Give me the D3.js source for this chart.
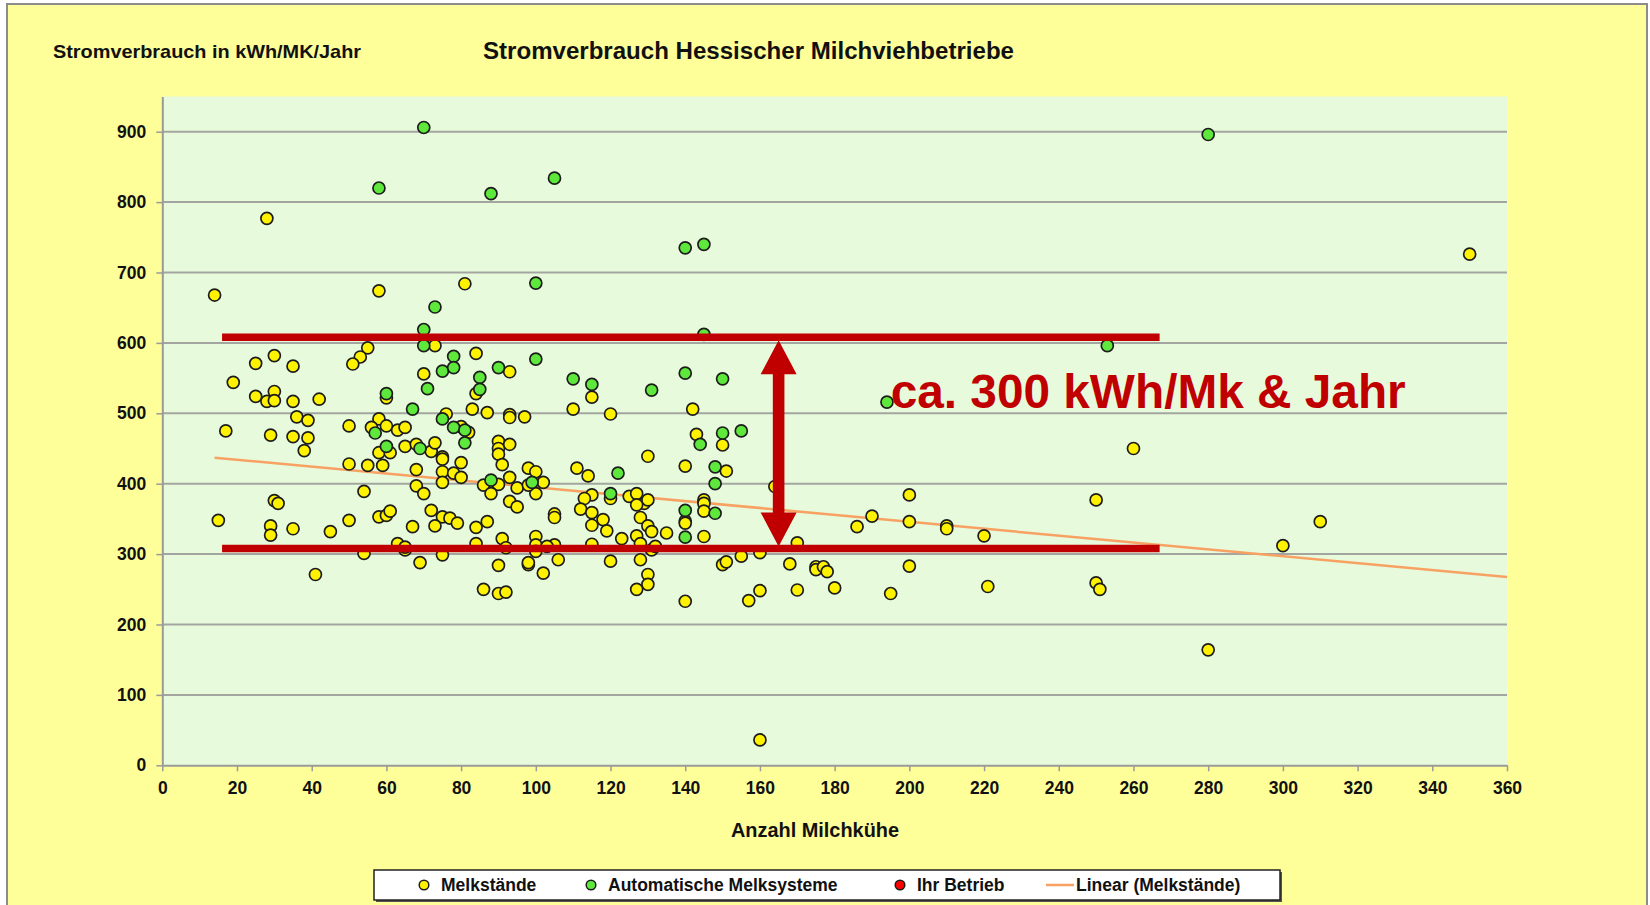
<!DOCTYPE html>
<html>
<head>
<meta charset="utf-8">
<script src="https://cdn.jsdelivr.net/npm/d3@7"></script>
<style>
    body { margin: 0; background: #ffffff; }
    svg text { font-family: "Liberation Sans", Arial, sans-serif; font-weight: bold; }
</style>
</head>
<body>
<div id="chart"></div>
<script>
// Melkstände (yellow) : [Anzahl Milchkühe, kWh/MK/Jahr]
const melkstaende = [
    [14, 668], [28, 777], [58, 674], [81, 684], [15, 348],
    [73, 596], [55, 593], [53, 580], [51, 570], [30, 582], [25, 571], [35, 567], [19, 544],
    [25, 524], [30, 531], [28, 517], [30, 518], [35, 517], [42, 520], [60, 522], [70, 556],
    [76, 499], [83, 506], [17, 475], [29, 469], [35, 467], [36, 495], [39, 490], [39, 465],
    [38, 447], [50, 482], [58, 492], [56, 480], [60, 482], [63, 476], [65, 480], [58, 444],
    [61, 444], [65, 453], [68, 456], [72, 446], [73, 458], [82, 473], [80, 481], [75, 438],
    [75, 435], [80, 430], [75, 417], [78, 415], [80, 409], [50, 428], [55, 426], [59, 426],
    [68, 420], [68, 397], [75, 402], [84, 585],
    [54, 389], [30, 376], [31, 372], [70, 386], [29, 340], [29, 327], [35, 336], [45, 332],
    [50, 348], [58, 353], [60, 355], [61, 361], [72, 362], [75, 353], [77, 351], [79, 344],
    [73, 340], [67, 339], [84, 338], [84, 315], [63, 315], [65, 306], [65, 310], [54, 301],
    [75, 299], [69, 288], [41, 271], [86, 250],
    [93, 559], [84, 528], [115, 523], [142, 506], [87, 501], [93, 498], [93, 494], [97, 495],
    [110, 506], [120, 499], [90, 460], [90, 450], [90, 442], [93, 456], [91, 427], [98, 422],
    [100, 417], [93, 409], [102, 402], [111, 422], [114, 411], [130, 439], [140, 425],
    [143, 470], [150, 455], [151, 418],
    [86, 398], [90, 399], [88, 386], [100, 386], [95, 394], [98, 398], [93, 375], [95, 367],
    [105, 357], [105, 352], [115, 384], [113, 379], [112, 364], [115, 359], [115, 341],
    [118, 349], [119, 333], [120, 379], [125, 382], [127, 386], [129, 372], [130, 377],
    [127, 370], [128, 352], [130, 340], [131, 332], [135, 330], [123, 322], [127, 326],
    [128, 315], [131, 306], [132, 311], [140, 347], [140, 344], [145, 377], [145, 372],
    [145, 361], [145, 325], [155, 297], [150, 285], [151, 289], [87, 346], [91, 322],
    [92, 309], [100, 325], [100, 313], [100, 304], [105, 313], [103, 311], [115, 314],
    [90, 284], [98, 285], [98, 288], [102, 273], [106, 292], [120, 290], [128, 292],
    [130, 271], [130, 257], [127, 250], [90, 244], [92, 246], [140, 233], [157, 234],
    [164, 396], [200, 384], [250, 377], [260, 450], [160, 302], [160, 248], [160, 36],
    [170, 316], [168, 286], [170, 249], [175, 282], [175, 278], [177, 282], [178, 275],
    [180, 252], [186, 339], [190, 354], [195, 244], [200, 346], [200, 283], [210, 340],
    [210, 336], [220, 326], [221, 254], [250, 259], [251, 250],
    [350, 726], [310, 346], [300, 312], [280, 164]
];

// Automatische Melksysteme (green)
const ams = [
    [70, 906], [58, 820], [88, 812], [105, 834], [100, 685], [73, 651], [70, 619], [70, 596],
    [60, 528], [71, 535], [75, 560], [78, 581], [78, 565], [85, 551], [85, 534], [67, 506],
    [57, 472], [60, 453], [69, 450], [75, 492], [78, 480], [81, 476], [81, 458], [145, 612],
    [90, 565], [100, 577], [110, 549], [115, 541], [131, 533], [140, 557], [150, 549],
    [144, 456], [150, 472], [155, 475], [148, 424], [148, 400], [88, 405], [99, 402],
    [122, 415], [120, 386], [140, 362], [140, 324], [148, 358], [140, 735], [145, 740],
    [253, 596], [194, 516], [280, 896]
];

// Ihr Betrieb (red) - only shown in the legend
const ihrBetrieb = [];

// Linear (Melkstände) end points as drawn
const trendX = [14, 360];
const trendY = [437, 267.5];

const xTicks = d3.range(0, 361, 20);
const yTicks = d3.range(0, 901, 100);

// annotation: band of ca. 300 kWh
const bandY = [308, 608];
const bandX = [16, 267];
const arrowX = 165;
const noteText = "ca. 300 kWh/Mk & Jahr";
const notePos = [195, 507];

const legendLabels = ["Melkstände", "Automatische Melksysteme", "Ihr Betrieb", "Linear (Melkstände)"];

const W = 1650, H = 905;
const margin = { top: 96.5, right: 143, bottom: 139.7, left: 162.3 };
const width = W - margin.left - margin.right;
const height = H - margin.top - margin.bottom;

const root = d3.select("#chart")
    .append("svg")
    .attr("width", W)
    .attr("height", H);

// outer frame
root.append("rect")
    .attr("x", 7).attr("y", 4)
    .attr("width", 1640).attr("height", 910)
    .attr("fill", "#ffff99")
    .attr("stroke", "#8c8c8c")
    .attr("stroke-width", 2);

root.append("text")
    .attr("x", 748.5).attr("y", 59)
    .attr("text-anchor", "middle")
    .attr("font-size", 23.5)
    .attr("textLength", 531).attr("lengthAdjust", "spacingAndGlyphs")
    .attr("fill", "#111")
    .text("Stromverbrauch Hessischer Milchviehbetriebe");

root.append("text")
    .attr("x", 53).attr("y", 58)
    .attr("font-size", 19)
    .attr("textLength", 308).attr("lengthAdjust", "spacingAndGlyphs")
    .attr("fill", "#111")
    .text("Stromverbrauch in kWh/MK/Jahr");

root.append("text")
    .attr("x", 815).attr("y", 837)
    .attr("text-anchor", "middle")
    .attr("font-size", 19.5)
    .attr("textLength", 168).attr("lengthAdjust", "spacingAndGlyphs")
    .attr("fill", "#111")
    .text("Anzahl Milchkühe");

const svg = root.append("g")
    .attr("transform", `translate(${margin.left},${margin.top})`);

const x = d3.scaleLinear().domain([0, 360]).range([0, width]);
const y = d3.scaleLinear().domain([0, 950]).range([height, 0]);

// plot area
svg.append("rect")
    .attr("width", width).attr("height", height)
    .attr("fill", "#e8fadc");

// gridlines
svg.append("g")
    .selectAll("line")
    .data(yTicks.filter(d => d > 0))
    .enter().append("line")
    .attr("x1", 0).attr("x2", width)
    .attr("y1", d => y(d)).attr("y2", d => y(d))
    .attr("stroke", "#a3a6a0")
    .attr("stroke-width", 2);

// axes
const xAxis = svg.append("g")
    .attr("transform", `translate(0,${height})`)
    .call(d3.axisBottom(x).tickValues(xTicks).tickSize(6).tickSizeOuter(0).tickPadding(10));

const yAxis = svg.append("g")
    .call(d3.axisLeft(y).tickValues(yTicks).tickSize(6).tickSizeOuter(0).tickPadding(10));

[xAxis, yAxis].forEach(a => {
    a.select(".domain").attr("stroke", "#9a9a9a").attr("stroke-width", 2);
    a.selectAll(".tick line").attr("stroke", "#9a9a9a").attr("stroke-width", 1.5);
    a.selectAll(".tick text")
        .attr("font-size", 17.5)
        .attr("font-family", "'Liberation Sans', Arial, sans-serif")
        .attr("font-weight", "bold")
        .attr("fill", "#111");
});

// trend line
svg.append("line")
    .attr("x1", x(trendX[0])).attr("y1", y(trendY[0]))
    .attr("x2", x(trendX[1])).attr("y2", y(trendY[1]))
    .attr("stroke", "#f7a262")
    .attr("stroke-width", 2.5);

// points
function drawPoints(data, fill) {
    svg.append("g")
        .selectAll("circle")
        .data(data)
        .enter().append("circle")
        .attr("cx", d => x(d[0]))
        .attr("cy", d => y(d[1]))
        .attr("r", 6)
        .attr("fill", fill)
        .attr("stroke", "#1c1c1c")
        .attr("stroke-width", 1.7);
}
drawPoints(melkstaende, "#fff200");
drawPoints(ams, "#5ee83c");
drawPoints(ihrBetrieb, "#ff0000");

// red band lines
const red = "#c00000";
bandY.forEach(v => {
    svg.append("line")
        .attr("x1", x(bandX[0])).attr("x2", x(bandX[1]))
        .attr("y1", y(v)).attr("y2", y(v))
        .attr("stroke", red)
        .attr("stroke-width", 7.5);
});

// double arrow between the lines
const ax = x(arrowX), yTop = y(bandY[1]) + 3, yBot = y(bandY[0]) - 2;
const headH = 34, headW = 18, shaftW = 5.8;
svg.append("path")
    .attr("d", [
        `M${ax},${yTop}`,
        `L${ax + headW},${yTop + headH}`,
        `L${ax + shaftW},${yTop + headH}`,
        `L${ax + shaftW},${yBot - headH}`,
        `L${ax + headW},${yBot - headH}`,
        `L${ax},${yBot}`,
        `L${ax - headW},${yBot - headH}`,
        `L${ax - shaftW},${yBot - headH}`,
        `L${ax - shaftW},${yTop + headH}`,
        `L${ax - headW},${yTop + headH}`,
        "Z"
    ].join(""))
    .attr("fill", red);

svg.append("text")
    .attr("x", x(notePos[0])).attr("y", y(notePos[1]))
    .attr("font-size", 48)
    .attr("textLength", 515).attr("lengthAdjust", "spacingAndGlyphs")
    .attr("fill", red)
    .text(noteText);

// legend
const legend = root.append("g");
legend.append("rect")
    .attr("x", 376).attr("y", 872)
    .attr("width", 906).attr("height", 30)
    .attr("fill", "#555");
legend.append("rect")
    .attr("x", 374).attr("y", 870)
    .attr("width", 906).attr("height", 30)
    .attr("fill", "#ffffff")
    .attr("stroke", "#222")
    .attr("stroke-width", 1.5);

const legendX = [424, 591, 900, 1046];
const legendFill = ["#fff200", "#5ee83c", "#ff0000"];
legendLabels.forEach((lab, i) => {
    if (i < 3) {
        legend.append("circle")
            .attr("cx", legendX[i]).attr("cy", 885)
            .attr("r", 4.8)
            .attr("fill", legendFill[i])
            .attr("stroke", "#1c1c1c")
            .attr("stroke-width", 1.5);
    } else {
        legend.append("line")
            .attr("x1", legendX[i]).attr("x2", legendX[i] + 28)
            .attr("y1", 885).attr("y2", 885)
            .attr("stroke", "#f7a262")
            .attr("stroke-width", 2.5);
    }
    legend.append("text")
        .attr("x", i < 3 ? legendX[i] + 17 : legendX[i] + 30)
        .attr("y", 891)
        .attr("font-size", 17.5)
        .attr("fill", "#111")
        .text(lab);
});
</script>
</body>
</html>
